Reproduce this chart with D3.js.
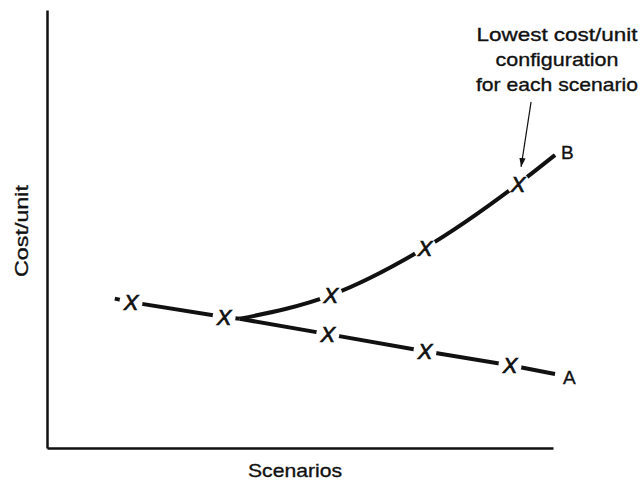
<!DOCTYPE html>
<html>
<head>
<meta charset="utf-8">
<script src="https://cdn.jsdelivr.net/npm/d3@7"></script>
<style>
  body { margin: 0; background: #fff; }
  svg { display: block; font-family: "Liberation Sans", Arial, sans-serif; }
  .lbl { font-size: 19px; fill: #111; stroke: #111; stroke-width: 0.35px; }
</style>
</head>
<body>
<svg width="642" height="481"></svg>
<script>
// shared part before the split, then the two branches (scenario position, cost/unit)
var commonX = [1.34, 1.66, 3.50, 3.81],
  commonY = [3.41, 3.33, 2.99, 2.95];
var aX = [3.81, 5.55, 7.47, 9.15, 10.04],
  aY = [2.95, 2.60, 2.21, 1.89, 1.69];
var bX = [3.81, 5.61, 7.47, 9.31, 10.04],
  bY = [2.95, 3.49, 4.57, 6.03, 6.69];
// which points carry an "X" marker
var commonMarks = [1, 2],
  aMarks = [1, 2, 3],
  bMarks = [1, 2, 3];
var noteLines = ["Lowest cost/unit", "configuration", "for each scenario"];

var svg = d3.select("svg");

var x = d3.scaleLinear().domain([0, 10]).range([47, 553]),
  y = d3.scaleLinear().domain([0, 10]).range([448, 10]);

var zip = (xs, ys) => xs.map((v, i) => [v, ys[i]]);
var common = zip(commonX, commonY),
  seriesA = zip(aX, aY),
  seriesB = zip(bX, bY);

var straight = d3.line().x(d => x(d[0])).y(d => y(d[1]));
var curved = d3.line().x(d => x(d[0])).y(d => y(d[1])).curve(d3.curveMonotoneX);

// axes (no ticks, just the two lines)
svg.append("g")
  .attr("transform", `translate(${x(0)},0)`)
  .call(d3.axisLeft(y).ticks(0).tickSizeOuter(0))
  .call(g => g.select(".domain").attr("stroke", "#111").attr("stroke-width", 2.5));
svg.append("g")
  .attr("transform", `translate(0,${y(0)})`)
  .call(d3.axisBottom(x).ticks(0).tickSizeOuter(0))
  .call(g => g.select(".domain").attr("stroke", "#111").attr("stroke-width", 2.5));

var lines = svg.append("g")
  .attr("fill", "none")
  .attr("stroke", "#111")
  .attr("stroke-width", 4)
  .attr("stroke-linecap", "butt");
lines.append("path").attr("d", straight(common));
lines.append("path").attr("d", straight(seriesA));
lines.append("path").attr("d", curved(seriesB));

var marks = commonMarks.map(i => common[i])
  .concat(aMarks.map(i => seriesA[i]))
  .concat(bMarks.map(i => seriesB[i]));

// white gaps around each marker
svg.append("g").selectAll("circle")
  .data(marks)
  .enter().append("circle")
  .attr("cx", d => x(d[0]))
  .attr("cy", d => y(d[1]))
  .attr("r", 11.5)
  .attr("fill", "#fff");

svg.append("g").selectAll("text")
  .data(marks)
  .enter().append("text")
  .attr("x", d => x(d[0]))
  .attr("y", d => y(d[1]))
  .attr("dy", "0.36em")
  .attr("text-anchor", "middle")
  .style("font-size", "22px")
  .style("font-style", "italic")
  .attr("fill", "#111")
  .attr("stroke", "#111")
  .attr("stroke-width", 0.7)
  .text("X");

// series labels
var lastA = seriesA[seriesA.length - 1],
  lastB = seriesB[seriesB.length - 1];
svg.append("text").attr("class", "lbl")
  .attr("x", x(lastA[0]) + 8).attr("y", y(lastA[1]) + 10)
  .text("A");
svg.append("text").attr("class", "lbl")
  .attr("x", x(lastB[0]) + 6).attr("y", y(lastB[1]) + 4)
  .text("B");

// annotation + arrow to the last B marker
svg.append("defs").append("marker")
  .attr("id", "head")
  .attr("viewBox", "0 0 10 10")
  .attr("refX", 10).attr("refY", 5)
  .attr("markerWidth", 9).attr("markerHeight", 9)
  .attr("markerUnits", "userSpaceOnUse")
  .attr("orient", "auto")
  .append("path").attr("d", "M0,1.5L10,5L0,8.5Z").attr("fill", "#111");

var target = seriesB[bMarks[bMarks.length - 1]];
var tx = x(target[0]), ty = y(target[1]);
svg.append("line")
  .attr("x1", tx + 13).attr("y1", ty - 82)
  .attr("x2", tx + 3).attr("y2", ty - 17)
  .attr("stroke", "#111").attr("stroke-width", 1.2)
  .attr("marker-end", "url(#head)");

var noteWidths = [161, 123, 162];
svg.append("g").selectAll("text")
  .data(noteLines)
  .enter().append("text").attr("class", "lbl")
  .attr("x", 557)
  .attr("y", (d, i) => 41 + i * 25)
  .attr("text-anchor", "middle")
  .attr("textLength", (d, i) => noteWidths[i])
  .attr("lengthAdjust", "spacingAndGlyphs")
  .text(d => d);

// axis titles
svg.append("text").attr("class", "lbl")
  .attr("x", 295).attr("y", 477)
  .attr("text-anchor", "middle")
  .attr("textLength", 94).attr("lengthAdjust", "spacingAndGlyphs")
  .text("Scenarios");
svg.append("text").attr("class", "lbl")
  .attr("transform", "translate(28,231) rotate(-90)")
  .attr("text-anchor", "middle")
  .attr("textLength", 92).attr("lengthAdjust", "spacingAndGlyphs")
  .text("Cost/unit");
</script>
</body>
</html>
